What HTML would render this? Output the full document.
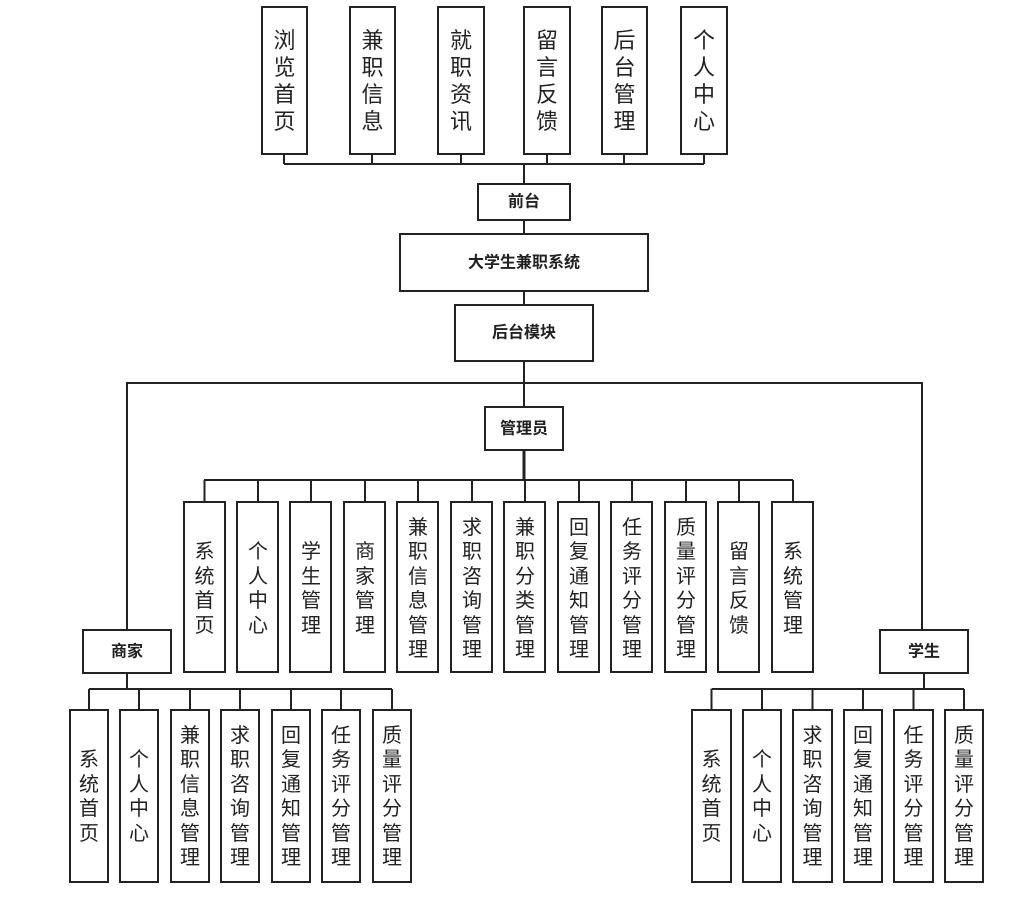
<!DOCTYPE html>
<html><head><meta charset="utf-8"><style>
html,body{margin:0;padding:0;background:#fff;}
svg{display:block;}
text{font-family:"Liberation Sans","Noto Sans CJK SC",sans-serif;fill:#222;text-anchor:middle;dominant-baseline:central;}
.v{font-size:20px;}
.t{font-size:22px;}
.h{font-size:16px;font-weight:bold;}
rect{fill:#fff;stroke:#222;stroke-width:2;}
line,polyline{stroke:#222;stroke-width:2;fill:none;}
</style></head><body>
<svg width="1019" height="903" viewBox="0 0 1019 903" xmlns="http://www.w3.org/2000/svg">
<!-- connectors -->
<line x1="284" y1="154" x2="284" y2="164"/><line x1="372" y1="154" x2="372" y2="164"/><line x1="461" y1="154" x2="461" y2="164"/><line x1="547" y1="154" x2="547" y2="164"/><line x1="624" y1="154" x2="624" y2="164"/><line x1="704" y1="154" x2="704" y2="164"/>
<line x1="284" y1="164" x2="704" y2="164"/>
<line x1="524" y1="164" x2="524" y2="184"/>
<line x1="524" y1="220" x2="524" y2="234"/>
<line x1="524" y1="291" x2="524" y2="305"/>
<line x1="524" y1="361" x2="524" y2="407"/>
<polyline points="127,630 127,383 922,383 922,630"/>
<line x1="524" y1="450" x2="524" y2="480" style="stroke-width:3"/>
<line x1="204" y1="480" x2="793" y2="480"/>
<line x1="204.5" y1="480" x2="204.5" y2="502"/><line x1="258" y1="480" x2="258" y2="502"/><line x1="311" y1="480" x2="311" y2="502"/><line x1="365" y1="480" x2="365" y2="502"/><line x1="418" y1="480" x2="418" y2="502"/><line x1="472" y1="480" x2="472" y2="502"/><line x1="525" y1="480" x2="525" y2="502"/><line x1="579" y1="480" x2="579" y2="502"/><line x1="632" y1="480" x2="632" y2="502"/><line x1="686" y1="480" x2="686" y2="502"/><line x1="739" y1="480" x2="739" y2="502"/><line x1="793" y1="480" x2="793" y2="502"/>
<line x1="127" y1="673" x2="127" y2="689"/>
<line x1="89" y1="689" x2="392" y2="689"/>
<line x1="89" y1="689" x2="89" y2="710"/><line x1="139" y1="689" x2="139" y2="710"/><line x1="190" y1="689" x2="190" y2="710"/><line x1="240" y1="689" x2="240" y2="710"/><line x1="291" y1="689" x2="291" y2="710"/><line x1="341" y1="689" x2="341" y2="710"/><line x1="392" y1="689" x2="392" y2="710"/>
<line x1="924" y1="673" x2="924" y2="689"/>
<line x1="711.5" y1="689" x2="964" y2="689"/>
<line x1="711.5" y1="689" x2="711.5" y2="710"/><line x1="762" y1="689" x2="762" y2="710"/><line x1="812.5" y1="689" x2="812.5" y2="710"/><line x1="863" y1="689" x2="863" y2="710"/><line x1="913.5" y1="689" x2="913.5" y2="710"/><line x1="964" y1="689" x2="964" y2="710"/>

<!-- top boxes -->
<rect x="262" y="7" width="45" height="147"/><rect x="350" y="7" width="45" height="147"/><rect x="438" y="7" width="46" height="147"/><rect x="524" y="7" width="46" height="147"/><rect x="602" y="7" width="45" height="147"/><rect x="681" y="7" width="46" height="147"/>
<text class="t"><tspan x="284.5" y="40">浏</tspan><tspan x="284.5" y="67">览</tspan><tspan x="284.5" y="94">首</tspan><tspan x="284.5" y="121">页</tspan></text>
<text class="t"><tspan x="372.5" y="40">兼</tspan><tspan x="372.5" y="67">职</tspan><tspan x="372.5" y="94">信</tspan><tspan x="372.5" y="121">息</tspan></text>
<text class="t"><tspan x="461" y="40">就</tspan><tspan x="461" y="67">职</tspan><tspan x="461" y="94">资</tspan><tspan x="461" y="121">讯</tspan></text>
<text class="t"><tspan x="547" y="40">留</tspan><tspan x="547" y="67">言</tspan><tspan x="547" y="94">反</tspan><tspan x="547" y="121">馈</tspan></text>
<text class="t"><tspan x="624.5" y="40">后</tspan><tspan x="624.5" y="67">台</tspan><tspan x="624.5" y="94">管</tspan><tspan x="624.5" y="121">理</tspan></text>
<text class="t"><tspan x="704" y="40">个</tspan><tspan x="704" y="67">人</tspan><tspan x="704" y="94">中</tspan><tspan x="704" y="121">心</tspan></text>

<!-- center boxes -->
<rect x="478" y="184" width="92" height="36"/><text class="h" x="524" y="202">前台</text>
<rect x="400" y="234" width="248" height="57"/><text class="h" x="524" y="263">大学生兼职系统</text>
<rect x="455" y="305" width="138" height="56"/><text class="h" x="524" y="333">后台模块</text>
<rect x="485" y="407" width="78" height="43"/><text class="h" x="524" y="429">管理员</text>
<rect x="83" y="630" width="88" height="43"/><text class="h" x="127" y="652">商家</text>
<rect x="880" y="630" width="88" height="43"/><text class="h" x="924" y="652">学生</text>

<!-- admin boxes -->
<rect x="184" y="502" width="41" height="170"/><rect x="237" y="502" width="41" height="170"/><rect x="290" y="502" width="41" height="170"/><rect x="344" y="502" width="41" height="170"/><rect x="397" y="502" width="41" height="170"/><rect x="451" y="502" width="41" height="170"/><rect x="504" y="502" width="41" height="170"/><rect x="558" y="502" width="41" height="170"/><rect x="611" y="502" width="41" height="170"/><rect x="665" y="502" width="41" height="170"/><rect x="718" y="502" width="41" height="170"/><rect x="772" y="502" width="41" height="170"/>
<text class="v"><tspan x="204.5" y="552">系</tspan><tspan x="204.5" y="577">统</tspan><tspan x="204.5" y="601">首</tspan><tspan x="204.5" y="626">页</tspan></text>
<text class="v"><tspan x="258" y="552">个</tspan><tspan x="258" y="577">人</tspan><tspan x="258" y="601">中</tspan><tspan x="258" y="626">心</tspan></text>
<text class="v"><tspan x="311" y="552">学</tspan><tspan x="311" y="577">生</tspan><tspan x="311" y="601">管</tspan><tspan x="311" y="626">理</tspan></text>
<text class="v"><tspan x="365" y="552">商</tspan><tspan x="365" y="577">家</tspan><tspan x="365" y="601">管</tspan><tspan x="365" y="626">理</tspan></text>
<text class="v"><tspan x="418" y="528">兼</tspan><tspan x="418" y="552">职</tspan><tspan x="418" y="577">信</tspan><tspan x="418" y="601">息</tspan><tspan x="418" y="626">管</tspan><tspan x="418" y="650">理</tspan></text>
<text class="v"><tspan x="472" y="528">求</tspan><tspan x="472" y="552">职</tspan><tspan x="472" y="577">咨</tspan><tspan x="472" y="601">询</tspan><tspan x="472" y="626">管</tspan><tspan x="472" y="650">理</tspan></text>
<text class="v"><tspan x="525" y="528">兼</tspan><tspan x="525" y="552">职</tspan><tspan x="525" y="577">分</tspan><tspan x="525" y="601">类</tspan><tspan x="525" y="626">管</tspan><tspan x="525" y="650">理</tspan></text>
<text class="v"><tspan x="579" y="528">回</tspan><tspan x="579" y="552">复</tspan><tspan x="579" y="577">通</tspan><tspan x="579" y="601">知</tspan><tspan x="579" y="626">管</tspan><tspan x="579" y="650">理</tspan></text>
<text class="v"><tspan x="632" y="528">任</tspan><tspan x="632" y="552">务</tspan><tspan x="632" y="577">评</tspan><tspan x="632" y="601">分</tspan><tspan x="632" y="626">管</tspan><tspan x="632" y="650">理</tspan></text>
<text class="v"><tspan x="686" y="528">质</tspan><tspan x="686" y="552">量</tspan><tspan x="686" y="577">评</tspan><tspan x="686" y="601">分</tspan><tspan x="686" y="626">管</tspan><tspan x="686" y="650">理</tspan></text>
<text class="v"><tspan x="739" y="552">留</tspan><tspan x="739" y="577">言</tspan><tspan x="739" y="601">反</tspan><tspan x="739" y="626">馈</tspan></text>
<text class="v"><tspan x="793" y="552">系</tspan><tspan x="793" y="577">统</tspan><tspan x="793" y="601">管</tspan><tspan x="793" y="626">理</tspan></text>

<!-- merchant boxes -->
<rect x="70" y="710" width="38" height="172"/><rect x="120" y="710" width="38" height="172"/><rect x="171" y="710" width="38" height="172"/><rect x="221" y="710" width="38" height="172"/><rect x="272" y="710" width="38" height="172"/><rect x="322" y="710" width="38" height="172"/><rect x="373" y="710" width="38" height="172"/>
<text class="v"><tspan x="89" y="760">系</tspan><tspan x="89" y="785">统</tspan><tspan x="89" y="809">首</tspan><tspan x="89" y="834">页</tspan></text>
<text class="v"><tspan x="139" y="760">个</tspan><tspan x="139" y="785">人</tspan><tspan x="139" y="809">中</tspan><tspan x="139" y="834">心</tspan></text>
<text class="v"><tspan x="190" y="736">兼</tspan><tspan x="190" y="760">职</tspan><tspan x="190" y="785">信</tspan><tspan x="190" y="809">息</tspan><tspan x="190" y="834">管</tspan><tspan x="190" y="858">理</tspan></text>
<text class="v"><tspan x="240" y="736">求</tspan><tspan x="240" y="760">职</tspan><tspan x="240" y="785">咨</tspan><tspan x="240" y="809">询</tspan><tspan x="240" y="834">管</tspan><tspan x="240" y="858">理</tspan></text>
<text class="v"><tspan x="291" y="736">回</tspan><tspan x="291" y="760">复</tspan><tspan x="291" y="785">通</tspan><tspan x="291" y="809">知</tspan><tspan x="291" y="834">管</tspan><tspan x="291" y="858">理</tspan></text>
<text class="v"><tspan x="341" y="736">任</tspan><tspan x="341" y="760">务</tspan><tspan x="341" y="785">评</tspan><tspan x="341" y="809">分</tspan><tspan x="341" y="834">管</tspan><tspan x="341" y="858">理</tspan></text>
<text class="v"><tspan x="392" y="736">质</tspan><tspan x="392" y="760">量</tspan><tspan x="392" y="785">评</tspan><tspan x="392" y="809">分</tspan><tspan x="392" y="834">管</tspan><tspan x="392" y="858">理</tspan></text>

<!-- student boxes -->
<rect x="692" y="710" width="39" height="172"/><rect x="743" y="710" width="38" height="172"/><rect x="793" y="710" width="39" height="172"/><rect x="844" y="710" width="38" height="172"/><rect x="894" y="710" width="39" height="172"/><rect x="945" y="710" width="38" height="172"/>
<text class="v"><tspan x="711.5" y="760">系</tspan><tspan x="711.5" y="785">统</tspan><tspan x="711.5" y="809">首</tspan><tspan x="711.5" y="834">页</tspan></text>
<text class="v"><tspan x="762" y="760">个</tspan><tspan x="762" y="785">人</tspan><tspan x="762" y="809">中</tspan><tspan x="762" y="834">心</tspan></text>
<text class="v"><tspan x="812.5" y="736">求</tspan><tspan x="812.5" y="760">职</tspan><tspan x="812.5" y="785">咨</tspan><tspan x="812.5" y="809">询</tspan><tspan x="812.5" y="834">管</tspan><tspan x="812.5" y="858">理</tspan></text>
<text class="v"><tspan x="863" y="736">回</tspan><tspan x="863" y="760">复</tspan><tspan x="863" y="785">通</tspan><tspan x="863" y="809">知</tspan><tspan x="863" y="834">管</tspan><tspan x="863" y="858">理</tspan></text>
<text class="v"><tspan x="913.5" y="736">任</tspan><tspan x="913.5" y="760">务</tspan><tspan x="913.5" y="785">评</tspan><tspan x="913.5" y="809">分</tspan><tspan x="913.5" y="834">管</tspan><tspan x="913.5" y="858">理</tspan></text>
<text class="v"><tspan x="964" y="736">质</tspan><tspan x="964" y="760">量</tspan><tspan x="964" y="785">评</tspan><tspan x="964" y="809">分</tspan><tspan x="964" y="834">管</tspan><tspan x="964" y="858">理</tspan></text>
</svg>
</body></html>
